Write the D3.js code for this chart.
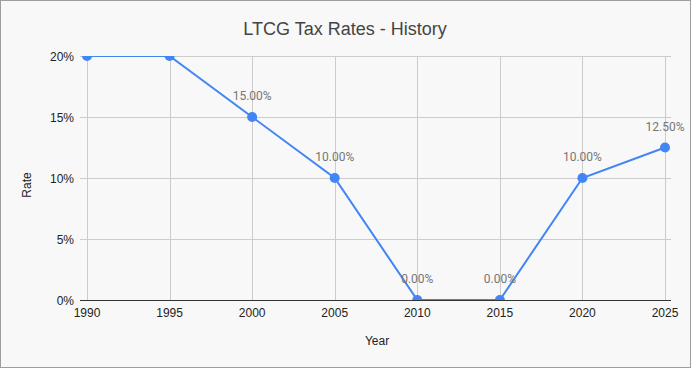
<!DOCTYPE html>
<html><head><meta charset="utf-8">
<script src="https://cdn.jsdelivr.net/npm/d3@7"></script>
<style>body{margin:0;background:#fff}svg{display:block}</style>
</head><body>
<script>
const years = [1990, 1995, 2000, 2005, 2010, 2015, 2020, 2025];
const rates = [0.20, 0.20, 0.15, 0.10, 0.00, 0.00, 0.10, 0.125];
const yTicks = [0, 0.05, 0.10, 0.15, 0.20];
const xTicks = [1990, 1995, 2000, 2005, 2010, 2015, 2020, 2025];

const W = 691, H = 368;
const svg = d3.select("body").append("svg").attr("width", W).attr("height", H);
svg.append("rect").attr("x",0.5).attr("y",0.5).attr("width",W-1).attr("height",H-1)
  .attr("fill","#f8f8f8").attr("stroke","#9e9e9e");

const x = d3.scaleLinear().domain([1990, 2025]).range([87, 665]);
const y = d3.scaleLinear().domain([0, 0.20]).range([300, 56]);

svg.append("defs").append("clipPath").attr("id","plot")
  .append("rect").attr("x",78).attr("y",56).attr("width",596).attr("height",244);

// gridlines
const g = svg.append("g");
g.selectAll(".hg").data(yTicks.filter(d=>d>0)).join("line")
  .attr("x1",80).attr("x2",671).attr("y1",d=>y(d)+0.5).attr("y2",d=>y(d)+0.5)
  .attr("stroke","#cccccc");
g.selectAll(".vg").data(xTicks).join("line")
  .attr("x1",d=>Math.round(x(d))+0.5).attr("x2",d=>Math.round(x(d))+0.5)
  .attr("y1",56).attr("y2",300).attr("stroke","#cccccc");
g.append("line").attr("x1",80).attr("x2",671).attr("y1",y(0)+0.5).attr("y2",y(0)+0.5)
  .attr("stroke","#333333");

// y tick labels
svg.selectAll(".yl").data(yTicks).join("text")
  .attr("x",74).attr("y",d=>y(d)+4.5).attr("text-anchor","end")
  .attr("font-family","Arial, 'Liberation Sans', sans-serif").attr("font-size",12).attr("fill","#222")
  .text(d=>d3.format(".0%")(d));
// x tick labels
svg.selectAll(".xl").data(xTicks).join("text")
  .attr("x",d=>x(d)).attr("y",317).attr("text-anchor","middle")
  .attr("font-family","Arial, 'Liberation Sans', sans-serif").attr("font-size",12).attr("fill","#222")
  .text(d=>d);

// axis titles
svg.append("text").attr("x",377).attr("y",345).attr("text-anchor","middle")
  .attr("font-family","Arial, 'Liberation Sans', sans-serif").attr("font-size",12).attr("fill","#222").text("Year");
svg.append("text").attr("transform","translate(31,185) rotate(-90)").attr("text-anchor","middle")
  .attr("font-family","Arial, 'Liberation Sans', sans-serif").attr("font-size",12).attr("fill","#222").text("Rate");

// title
svg.append("text").attr("x",345).attr("y",35).attr("text-anchor","middle")
  .attr("font-family","Arial, 'Liberation Sans', sans-serif").attr("font-size",18).attr("fill","#444").text("LTCG Tax Rates - History");

const data = years.map((yr,i)=>({year:yr, rate:rates[i]}));
const marks = svg.append("g").attr("clip-path","url(#plot)");
marks.append("path").datum(data)
  .attr("d", d3.line().x(d=>x(d.year)).y(d=>y(d.rate)))
  .attr("fill","none").attr("stroke","#4285f4").attr("stroke-width",2);
marks.selectAll(".pt").data(data).join("circle")
  .attr("cx",d=>x(d.year)).attr("cy",d=>y(d.rate)).attr("r",5).attr("fill","#4285f4");

// data labels (those at the top of the range are clipped in the original)
svg.selectAll(".dl").data(data.filter(d=>d.rate < 0.20)).join("text")
  .attr("x",d=>x(d.year)).attr("y",d=>y(d.rate)-17).attr("text-anchor","middle")
  .attr("font-family","Roboto, Arial, sans-serif").attr("font-size",12).attr("fill","#757575")
  .text(d=>d3.format(".2%")(d.rate));
</script>
</body></html>
